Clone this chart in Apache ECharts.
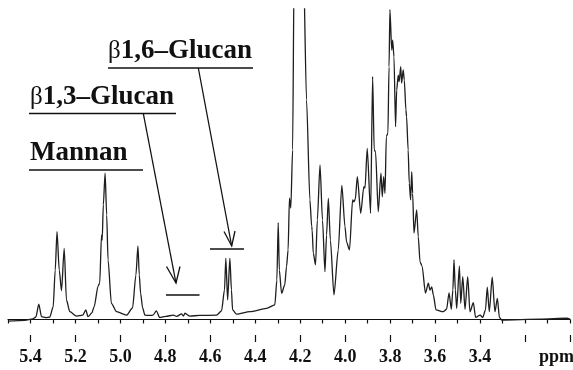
<!DOCTYPE html>
<html>
<head>
<meta charset="utf-8">
<script src="https://cdn.jsdelivr.net/npm/echarts@6/dist/echarts.min.js"></script>
<style>
  html, body { margin: 0; padding: 0; background: #fff; }
  #chart { width: 573px; height: 370px; }
</style>
</head>
<body>
<div id="chart"></div>
<script>
// 1H NMR spectrum, chemical shift (ppm) and relative intensity
var shifts = [
  5.50, 5.425, 5.39, 5.376, 5.363, 5.351, 5.332, 5.314, 5.299, 5.290,
  5.282, 5.272, 5.262, 5.250, 5.240, 5.225, 5.195, 5.167, 5.154, 5.144,
  5.127, 5.117, 5.099, 5.092, 5.084, 5.081, 5.076, 5.068, 5.061, 5.055,
  5.040, 5.017, 4.973, 4.946, 4.931, 4.922, 4.916, 4.910, 4.901, 4.891,
  4.869, 4.855, 4.840, 4.825, 4.798, 4.765, 4.749, 4.728, 4.720, 4.713,
  4.691, 4.647, 4.572, 4.550, 4.537, 4.531, 4.523, 4.513, 4.506, 4.501,
  4.483, 4.424, 4.350, 4.313, 4.304, 4.298, 4.293, 4.283, 4.269, 4.261,
  4.254, 4.248, 4.242, 4.234, 4.227, 4.186, 4.172, 4.157, 4.149, 4.147,
  4.142, 4.132, 4.124, 4.112, 4.101, 4.090, 4.083, 4.075, 4.066, 4.050,
  4.031, 4.015, 4.001, 3.994, 3.981, 3.967, 3.961, 3.955, 3.946, 3.931,
  3.917, 3.912, 3.902, 3.887, 3.878, 3.871, 3.865, 3.853, 3.841, 3.835,
  3.829, 3.823, 3.817, 3.810, 3.805, 3.801, 3.793, 3.789, 3.783, 3.776,
  3.771, 3.764, 3.760, 3.753, 3.749, 3.742, 3.737, 3.730, 3.727, 3.720,
  3.715, 3.709, 3.704, 3.700, 3.694, 3.682, 3.675, 3.667, 3.658, 3.643,
  3.630, 3.623, 3.615, 3.608, 3.596, 3.564, 3.549, 3.538, 3.528, 3.521,
  3.516, 3.510, 3.504, 3.492, 3.486, 3.477, 3.467, 3.455, 3.445, 3.430,
  3.420, 3.400, 3.388, 3.376, 3.368, 3.359, 3.346, 3.334, 3.323, 3.314,
  3.304, 3.133, 3.014, 3.000
];
var intensity = [
  -0.5, -0.3, 0.2, 0.8, 4.9, 0.9, 0.6, 0.8, 4.1, 15.9,
  28.3, 15.9, 9.3, 22.9, 6.3, 2.5, 1.1, 1.4, 3.1, 0.9,
  2.1, 4.1, 10.8, 11.7, 27.2, 25.6, 36.9, 47.1, 33.7, 19.2,
  5.2, 2.5, 1.4, 3.7, 14.3, 23.7, 14.3, 8.4, 3.7, 1.4,
  1.3, 1.4, 2.8, 0.6, 1.0, 1.4, 1.0, 1.8, 1.1, 2.0,
  1.1, 1.3, 1.4, 2.8, 9.5, 19.7, 6.3, 19.7, 9.5, 3.1,
  1.7, 2.5, 3.6, 4.7, 12.7, 31.2, 15.9, 8.4, 11.1, 17.0,
  22.4, 39.1, 35.9, 54.6, 115, 115, 70.7, 38.5, 29.9, 28.8,
  21.4, 17.6, 32.0, 49.8, 32.0, 15.4, 27.2, 39.0, 25.6, 7.9,
  22.4, 43.2, 29.9, 25.0, 22.4, 38.5, 37.9, 38.8, 46.0, 34.2,
  42.8, 42.3, 55.1, 34.2, 78.2, 54.6, 54.0, 34.7, 47.1, 39.5,
  46.0, 40.6, 58.9, 60.0, 81.4, 99.8, 86.8, 90.0, 84.6, 62.1,
  73.9, 78.7, 76.6, 81.4, 76.1, 80.4, 77.1, 67.5, 65.3, 54.6,
  43.9, 38.5, 47.6, 40.6, 27.8, 35.3, 26.7, 18.5, 17.2, 8.5,
  11.7, 9.5, 10.5, 7.9, 3.1, 2.5, 3.3, 8.6, 3.3, 9.5,
  19.2, 9.5, 3.6, 17.2, 5.2, 13.8, 3.3, 13.8, 2.5, 5.4,
  0.7, 1.4, 0.7, 3.1, 10.4, 2.5, 13.6, 2.5, 6.8, 0.7,
  -0.2, 0.1, 0.4, 0.1
];
var majorTicks = [3.0, 3.2, 3.4, 3.6, 3.8, 4.0, 4.2, 4.4, 4.6, 4.8, 5.0, 5.2, 5.4];
var tickLabels = [3.4, 3.6, 3.8, 4.0, 4.2, 4.4, 4.6, 4.8, 5.0, 5.2, 5.4];

var serif = '"Liberation Serif", "Times New Roman", serif';

var spectrum = shifts.map(function (s, i) {
  return [s, intensity[i]];
});

// label with a thin greek beta in front of the bold name
function labelText(left, midY, name, withBeta) {
  return {
    type: 'text',
    left: left,
    top: midY - 15,
    style: {
      text: withBeta ? '{g|β}{t|' + name + '}' : '{t|' + name + '}',
      rich: {
        g: { fontFamily: serif, fontSize: 25, fontWeight: 'normal', fill: '#111' },
        t: { fontFamily: serif, fontSize: 27, fontWeight: 'bold', fill: '#111' }
      }
    }
  };
}

function seg(x1, y1, x2, y2, w) {
  return {
    type: 'line',
    shape: { x1: x1, y1: y1, x2: x2, y2: y2 },
    style: { stroke: '#111', lineWidth: w || 1.3 }
  };
}

function head(pts) {
  return {
    type: 'polyline',
    shape: { points: pts },
    style: { stroke: '#111', lineWidth: 1.3, fill: null }
  };
}

var chart = echarts.init(document.getElementById('chart'));

var option = {
  animation: false,
  backgroundColor: '#fff',
  grid: { left: 8, right: 3, top: 9, bottom: 35 },
  xAxis: [
    {
      type: 'value',
      min: 3.0,
      max: 5.5,
      interval: 0.1,
      inverse: true,
      position: 'bottom',
      axisLine: { show: true, lineStyle: { color: '#111', width: 1.2 } },
      axisTick: { show: true, length: 4, lineStyle: { color: '#111', width: 1.2 } },
      axisLabel: { show: false },
      splitLine: { show: false }
    },
    {
      type: 'value',
      min: 3.0,
      max: 5.5,
      inverse: true,
      position: 'bottom',
      axisLine: { show: false },
      axisTick: {
        show: true,
        length: 7,
        customValues: majorTicks,
        lineStyle: { color: '#111', width: 1.2 }
      },
      axisLabel: {
        show: true,
        customValues: tickLabels,
        margin: 13,
        color: '#111',
        fontFamily: serif,
        fontWeight: 'bold',
        fontSize: 18,
        formatter: function (v) {
          return v.toFixed(1);
        }
      },
      splitLine: { show: false }
    }
  ],
  yAxis: {
    type: 'value',
    min: -5,
    max: 100,
    show: false
  },
  series: [
    {
      type: 'line',
      xAxisIndex: 0,
      data: spectrum,
      showSymbol: false,
      clip: true,
      smooth: 0.25,
      smoothMonotone: 'x',
      lineStyle: { color: '#1e1e1e', width: 1.3 }
    }
  ],
  graphic: [
    {
      type: 'text',
      left: 539,
      top: 348,
      style: { text: 'ppm', fontFamily: serif, fontWeight: 'bold', fontSize: 18, fill: '#111' }
    },
    labelText(30, 155, 'Mannan', false),
    seg(29, 170, 143, 170, 1.5),
    labelText(30, 99, '1,3–Glucan', true),
    seg(29, 113.5, 176, 113.5, 1.5),
    labelText(108, 53, '1,6–Glucan', true),
    seg(108, 68, 253, 68, 1.5),
    // arrow to the beta-1,3 region
    seg(143.3, 113.5, 176, 283),
    head([[166.5, 266.5], [176, 283], [180, 266.5]]),
    seg(166, 295, 199.5, 295, 1.6),
    // arrow to the beta-1,6 doublet
    seg(198.3, 68, 231.7, 246),
    head([[224, 231.5], [231.7, 246], [235, 231]]),
    seg(210, 249, 244, 249, 1.6)
  ]
};

chart.setOption(option);
</script>
</body>
</html>
